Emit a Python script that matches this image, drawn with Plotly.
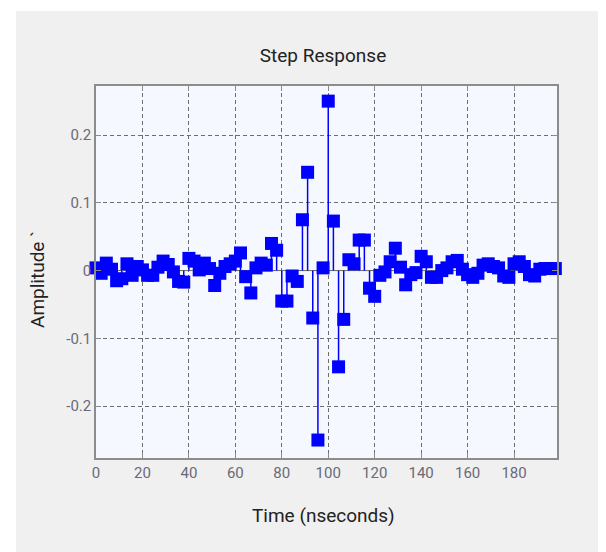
import plotly.graph_objects as go

# ---- data ----
sample_index = list(range(90))
sample_time_ns = [round(k * 20 / 9, 3) for k in sample_index]   # 0 ... 197.8 ns
amplitude = [
    0.004, -0.004, 0.011, 0.002, -0.015, -0.012, 0.010, -0.007, 0.006, 0.001,
    -0.007, -0.007, 0.005, 0.014, 0.009, -0.002, -0.016, -0.017, 0.018, 0.014,
    0.001, 0.011, 0.003, -0.022, -0.004, 0.006, 0.010, 0.014, 0.026, -0.009,
    -0.033, 0.004, 0.011, 0.008, 0.040, 0.030, -0.045, -0.045, -0.008, -0.016,
    0.075, 0.145, -0.070, -0.250, 0.004, 0.250, 0.073, -0.142, -0.072, 0.016,
    0.010, 0.045, 0.045, -0.026, -0.038, -0.007, -0.002, 0.013, 0.033, 0.005,
    -0.021, -0.006, -0.003, 0.021, 0.013, -0.010, -0.010, 0.000, 0.004, 0.013,
    0.015, 0.002, -0.006, -0.010, -0.004, 0.008, 0.010, 0.006, 0.004, -0.008,
    -0.010, 0.010, 0.013, 0.006, -0.006, -0.008, 0.002, 0.003, 0.003, 0.003,
]
x_ticks = [0, 20, 40, 60, 80, 100, 120, 140, 160, 180]
y_ticks = [-0.2, -0.1, 0, 0.1, 0.2]
y_tick_labels = ["-0.2", "-0.1", "0", "0.1", "0.2"]
title_text = "Step Response"
x_label = "Time (nseconds)"
y_label = "Amplitude `"

# ---- layout geometry (page pixels; page body has an 8px margin) ----
OFF = 8
W, H = 606 - OFF, 552 - OFF
L, R, T, B = 96 - OFF, 557 - OFF, 86 - OFF, 458 - OFF
pw, ph = R - L, B - T

FONT = "Roboto, Liberation Sans Narrow, DejaVu Sans Condensed, sans-serif"

stem_x, stem_y = [], []
for t, v in zip(sample_time_ns, amplitude):
    stem_x += [t, t, None]
    stem_y += [0, v, None]

fig = go.Figure()
fig.add_trace(go.Scatter(
    x=[sample_time_ns[0], sample_time_ns[-1]], y=[0, 0], mode="lines",
    line=dict(color="#6f6f5f", width=1), hoverinfo="skip", showlegend=False))
fig.add_trace(go.Scatter(
    x=stem_x, y=stem_y, mode="lines",
    line=dict(color="#0000ff", width=1.5), hoverinfo="skip", showlegend=False))
fig.add_trace(go.Scatter(
    x=sample_time_ns, y=amplitude, mode="markers",
    marker=dict(symbol="square", size=13, color="#0000ff", line=dict(width=0)),
    cliponaxis=False, showlegend=False))

axis_common = dict(
    showline=True, linecolor="#8c8c8c", linewidth=1.5, mirror="ticks",
    ticks="inside", ticklen=5, tickcolor="#8c8c8c",
    showgrid=True, gridcolor="#6e6e6e", gridwidth=1, griddash="4px,3px",
    zeroline=False,
    tickfont=dict(family=FONT, size=15, color="#6a6a78"),
)

fig.update_xaxes(range=[0, 198.5], tickvals=x_ticks, **axis_common)
fig.update_yaxes(range=[-0.2765, 0.2723], tickvals=y_ticks, ticktext=y_tick_labels,
                 **axis_common)

fig.update_layout(
    width=W, height=H,
    margin=dict(l=L, r=W - R, t=T, b=H - B, pad=0),
    paper_bgcolor="white",
    plot_bgcolor="rgba(0,0,0,0)",
    showlegend=False,
    title=dict(text=title_text, x=(323 - OFF) / W, xanchor="center",
               y=1 - (55 - OFF) / H, yanchor="middle", yref="container",
               font=dict(family=FONT, size=19, color="#222222")),
    shapes=[
        dict(type="rect", xref="paper", yref="paper", layer="below",
             x0=(16 - 96) / pw, x1=1.2, y0=-0.4, y1=(458 - 11) / ph,
             fillcolor="#f0f0f0", line=dict(width=0)),
        dict(type="rect", xref="paper", yref="paper", layer="below",
             x0=0, x1=1, y0=0, y1=1,
             fillcolor="#f5f8fe", line=dict(width=0)),
    ],
    annotations=[
        dict(text=x_label, xref="paper", yref="paper", x=0.5 - 3 / pw,
             y=(458 - 515) / ph, xanchor="center", yanchor="middle",
             showarrow=False, font=dict(family=FONT, size=19, color="#222222")),
        dict(text=y_label, xref="paper", yref="paper", x=(37 - 96) / pw,
             y=(458 - 280) / ph, xanchor="center", yanchor="middle", textangle=-90,
             showarrow=False, font=dict(family=FONT, size=19, color="#222222")),
    ],
)

fig.write_html("out.html")
